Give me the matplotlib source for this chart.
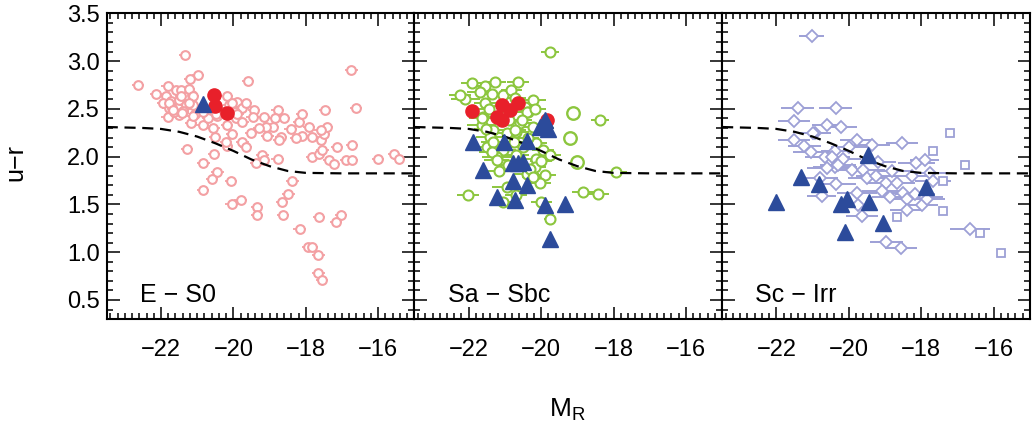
import matplotlib
matplotlib.use('Agg')
import matplotlib.pyplot as plt
from matplotlib.ticker import MultipleLocator

plt.rcParams['font.family'] = ['Liberation Sans', 'DejaVu Sans']
plt.rcParams['mathtext.fontset'] = 'custom'
plt.rcParams['mathtext.rm'] = 'Liberation Sans'

# ---- dashed dividing curve (same in every panel) ----
curve_M = [-23.5, -22.5, -22.0, -21.5, -21.0, -20.5, -20.0, -19.5, -19.0, -18.5, -18.0, -17.0, -15.0]
curve_ur = [2.31, 2.30, 2.29, 2.26, 2.21, 2.14, 2.06, 1.97, 1.90, 1.85, 1.83, 1.825, 1.825]

# ---- E - S0 ----
es0_M = [-21.33, -22.63, -20.98, -21.20, -19.60, -16.74, -21.82, -22.14, -21.86, -21.59,
         -21.45, -21.30, -21.73, -21.50, -21.79, -21.70, -21.31, -21.15, -21.12, -21.82,
         -21.50, -21.18, -20.85, -20.44, -20.17, -20.12, -19.89, -20.03, -19.75, -19.43,
         -19.94, -20.17, -19.75, -19.47, -20.03, -19.52, -19.15, -18.92, -19.10, -18.78,
         -18.85, -18.60, -19.06, -18.69, -18.42, -18.10, -17.91, -17.82, -17.59, -17.50,
         -17.41, -17.47, -16.62, -18.19, -18.10, -18.28, -17.59, -19.75, -19.66, -18.74,
         -17.13, -16.72, -21.29, -20.50, -20.17, -20.53, -19.20, -18.78, -19.15, -17.82,
         -17.63, -17.36, -17.22, -16.88, -16.72, -16.00, -15.57, -15.43, -19.38, -20.83,
         -20.44, -20.60, -20.07, -20.84, -18.37, -18.48, -19.80, -20.05, -18.66, -19.34,
         -19.34, -18.63, -17.63, -17.02, -17.16, -18.17, -17.93, -17.82, -17.65, -17.65,
         -17.56, -21.65, -21.40, -21.95, -21.05, -20.70, -20.55, -19.30, -20.30, -19.95,
         -17.54, -21.45, -21.22, -21.13, -21.77, -21.22, -21.68, -21.41, -21.13, -20.85,
         -19.66, -19.89, -20.49, -20.20]
es0_ur = [3.06, 2.75, 2.85, 2.81, 2.79, 2.91, 2.74, 2.66, 2.63, 2.70,
          2.70, 2.63, 2.58, 2.59, 2.51, 2.51, 2.54, 2.64, 2.54, 2.41,
          2.44, 2.35, 2.33, 2.43, 2.63, 2.54, 2.57, 2.56, 2.51, 2.49,
          2.40, 2.33, 2.36, 2.42, 2.24, 2.25, 2.42, 2.31, 2.31, 2.49,
          2.40, 2.40, 2.22, 2.21, 2.29, 2.22, 2.31, 2.21, 2.17, 2.24,
          2.31, 2.49, 2.51, 2.36, 2.45, 2.20, 2.28, 2.15, 2.10, 2.17,
          2.10, 2.12, 2.08, 2.21, 2.11, 2.03, 2.02, 1.98, 1.96, 2.00,
          2.03, 1.96, 1.92, 1.96, 1.96, 1.98, 2.03, 1.98, 1.93, 1.93,
          1.84, 1.77, 1.74, 1.65, 1.74, 1.61, 1.55, 1.50, 1.53, 1.47,
          1.39, 1.39, 1.37, 1.39, 1.32, 1.24, 1.05, 1.05, 0.97, 0.78,
          0.71, 2.47, 2.48, 2.56, 2.45, 2.40, 2.30, 2.30, 2.47, 2.47,
          2.07, 2.63, 2.71, 2.63, 2.56, 2.56, 2.49, 2.46, 2.43, 2.47,
          2.56, 2.45, 2.45, 2.15]
es0_red_M = [-20.53, -20.50, -20.19]
es0_red_ur = [2.645, 2.53, 2.46]
es0_tri_M = [-20.83]
es0_tri_ur = [2.556]

# ---- Sa - Sbc ----
sab_M = [-19.76, -21.92, -21.55, -20.63, -21.69, -21.37, -21.05, -20.82, -20.22, -22.10,
         -21.55, -20.45, -20.36, -21.60, -21.64, -20.59, -20.22, -21.32, -20.68, -21.41,
         -20.13, -21.50, -21.05, -19.94, -21.23, -20.68, -20.13, -19.76, -20.91, -20.17,
         -20.40, -19.90, -17.92, -20.03, -20.95, -22.01, -21.05, -19.99, -18.84, -18.43,
         -19.76, -18.38, -21.00, -20.90, -21.20, -21.45, -20.75, -20.50, -21.15, -20.70,
         -21.35, -20.95, -20.35, -19.95, -21.27, -22.24, -20.72, -20.40, -20.17, -21.64,
         -20.54, -21.51, -20.72, -21.32, -21.37, -21.23, -20.31, -20.22, -20.00]
sab_ur = [3.10, 2.77, 2.74, 2.78, 2.68, 2.66, 2.64, 2.70, 2.59, 2.60,
          2.56, 2.52, 2.47, 2.42, 2.33, 2.35, 2.31, 2.28, 2.26, 2.21,
          2.14, 2.10, 2.07, 2.07, 2.00, 2.02, 1.98, 2.02, 1.91, 1.89,
          1.82, 1.81, 1.84, 1.72, 1.68, 1.60, 1.53, 1.53, 1.63, 1.61,
          1.35, 2.38, 2.45, 2.38, 2.50, 2.50, 2.15, 2.10, 1.85, 1.60,
          2.05, 2.25, 2.20, 2.30, 2.78, 2.64, 2.61, 2.47, 2.50, 2.40,
          2.38, 2.29, 2.28, 2.15, 2.05, 1.96, 1.875, 1.79, 1.95]
sab_err = [0.25, 0.30, 0.30, 0.30, 0.35, 0.30, 0.30, 0.30, 0.35, 0.40,
           0.30, 0.30, 0.30, 0.35, 0.40, 0.30, 0.30, 0.35, 0.35, 0.40,
           0.30, 0.40, 0.35, 0.30, 0.40, 0.35, 0.35, 0.30, 0.35, 0.30,
           0.35, 0.30, 0.30, 0.30, 0.40, 0.30, 0.30, 0.30, 0.30, 0.30,
           0.15, 0.25, 0.30, 0.30, 0.30, 0.35, 0.35, 0.35, 0.35, 0.30,
           0.35, 0.35, 0.30, 0.30, 0.30, 0.30, 0.30, 0.30, 0.30, 0.35,
           0.30, 0.35, 0.30, 0.35, 0.35, 0.35, 0.30, 0.30, 0.30]
sab_big_M = [-19.12, -19.21, -19.02]
sab_big_ur = [2.46, 2.19, 1.94]
sab_red_M = [-21.92, -21.09, -20.63, -20.86, -21.23, -21.09, -19.85]
sab_red_ur = [2.48, 2.54, 2.56, 2.49, 2.41, 2.38, 2.38]
sab_tri_M = [-21.88, -21.03, -20.40, -19.90, -20.04, -19.80, -21.60, -20.77, -20.50, -20.64,
             -20.77, -20.40, -21.23, -20.73, -19.90, -19.35, -19.76]
sab_tri_ur = [2.15, 2.15, 2.16, 2.38, 2.31, 2.29, 1.86, 1.93, 1.94, 1.93,
              1.75, 1.70, 1.58, 1.55, 1.49, 1.50, 1.14]

# ---- Sc - Irr ----
sci_M = [-21.03, -21.41, -20.36, -21.51, -20.61, -20.22, -20.93, -21.51, -21.23, -19.78,
         -18.53, -20.38, -20.66, -20.15, -20.47, -19.19, -18.13, -17.90, -20.38, -20.29,
         -19.92, -19.60, -17.76, -20.61, -20.34, -19.51, -18.96, -18.68, -17.67, -20.75,
         -19.78, -19.09, -18.50, -18.18, -18.86, -18.40, -17.90, -19.74, -19.64, -18.40,
         -17.99, -17.85, -18.96, -18.56, -16.66, -20.98, -21.05, -20.00, -19.35, -20.80,
         -19.25, -18.80, -18.25]
sci_ur = [3.26, 2.51, 2.51, 2.37, 2.33, 2.31, 2.25, 2.17, 2.11, 2.17,
          2.14, 2.06, 2.00, 1.98, 2.00, 1.94, 1.93, 1.96, 1.89, 1.91,
          1.86, 1.86, 1.83, 1.88, 1.71, 1.78, 1.72, 1.72, 1.74, 1.59,
          1.62, 1.64, 1.62, 1.61, 1.58, 1.56, 1.58, 1.49, 1.38, 1.44,
          1.49, 1.56, 1.11, 1.04, 1.24, 2.25, 2.05, 2.10, 2.12, 1.78,
          1.80, 1.85, 1.80]
sci_err = [0.35, 0.45, 0.45, 0.45, 0.40, 0.45, 0.45, 0.45, 0.45, 0.45,
           0.45, 0.40, 0.55, 0.50, 0.50, 0.50, 0.50, 0.40, 0.60, 0.50,
           0.50, 0.60, 0.50, 0.55, 0.55, 0.50, 0.50, 0.50, 0.50, 0.40,
           0.55, 0.55, 0.55, 0.55, 0.50, 0.50, 0.50, 0.45, 0.45, 0.45,
           0.45, 0.50, 0.45, 0.45, 0.55, 0.40, 0.50, 0.50, 0.50, 0.50,
           0.55, 0.50, 0.50]
sci_sq_M = [-17.21, -17.67, -16.78, -17.40, -17.40, -18.68, -16.38, -15.80]
sci_sq_ur = [2.25, 2.06, 1.91, 1.74, 1.43, 1.37, 1.20, 0.99]
sci_tri_M = [-22.01, -21.32, -20.82, -20.06, -20.22, -19.45, -19.48, -17.88, -19.05, -20.11]
sci_tri_ur = [1.53, 1.79, 1.71, 1.56, 1.50, 1.53, 2.02, 1.68, 1.31, 1.21]

PINK = '#f3a0a3'
GREEN = '#8cc63e'
LAV = '#9da0d6'
RED = '#e8202a'
BLUE = '#2c4b9b'

fig = plt.figure(figsize=(10.33, 4.30), dpi=100)
axes = fig.subplots(1, 3, sharey=True)
fig.subplots_adjust(left=0.1033, right=0.9969, bottom=0.258, top=0.969, wspace=0)

# E - S0
ax = axes[0]
ax.errorbar(es0_M, es0_ur, xerr=0.17, fmt='o', ms=6.3, mfc='white', mec=PINK, mew=1.5,
            ecolor=PINK, elinewidth=1.3, capsize=0, zorder=2)
ax.plot(es0_red_M, es0_red_ur, 'o', ms=9.5, color=RED, zorder=4)
ax.plot(es0_tri_M, es0_tri_ur, '^', ms=11, color=BLUE, zorder=5)

# Sa - Sbc
ax = axes[1]
ax.errorbar(sab_M, sab_ur, xerr=sab_err, fmt='o', ms=7.2, mfc='white', mec=GREEN, mew=1.5,
            ecolor=GREEN, elinewidth=1.4, capsize=0, zorder=2)
ax.plot(sab_big_M, sab_big_ur, 'o', ms=9, mfc='white', mec=GREEN, mew=1.7, zorder=2)
ax.plot(sab_red_M, sab_red_ur, 'o', ms=9.5, color=RED, zorder=4)
ax.plot(sab_tri_M, sab_tri_ur, '^', ms=11, color=BLUE, zorder=5)

# Sc - Irr
ax = axes[2]
ax.errorbar(sci_M, sci_ur, xerr=sci_err, fmt='D', ms=6.3, mfc='white', mec=LAV, mew=1.3,
            ecolor=LAV, elinewidth=1.4, capsize=0, zorder=2)
ax.plot(sci_sq_M, sci_sq_ur, 's', ms=6, mfc='white', mec=LAV, mew=1.3, zorder=2)
ax.plot(sci_tri_M, sci_tri_ur, '^', ms=11, color=BLUE, zorder=5)

labels = ['E − S0', 'Sa − Sbc', 'Sc − Irr']
for ax, lab in zip(axes, labels):
    ax.plot(curve_M, curve_ur, color='black', lw=1.6, ls=(0, (5, 3)), zorder=3)
    ax.text(0.108, 0.056, lab, transform=ax.transAxes, fontsize=18, va='baseline')
    ax.set_xlim(-23.5, -15.0)
    ax.set_ylim(0.3, 3.5)
    ax.xaxis.set_major_locator(MultipleLocator(2))
    ax.xaxis.set_minor_locator(MultipleLocator(0.2))
    ax.yaxis.set_major_locator(MultipleLocator(0.5))
    ax.yaxis.set_minor_locator(MultipleLocator(0.1))
    ax.tick_params(which='both', direction='in', top=True, right=True, width=1.1)
    ax.tick_params(which='major', length=9)
    ax.tick_params(which='minor', length=4.5)
    ax.tick_params(axis='x', labelsize=17, pad=14)
    ax.tick_params(axis='y', labelsize=17, pad=5)
    for sp in ax.spines.values():
        sp.set_linewidth(1.5)

axes[0].yaxis.set_major_formatter(plt.FormatStrFormatter('%.1f'))

fig.text(0.0152, 0.623, 'u−r', rotation=90, ha='center', va='center', fontsize=18)
fig.text(0.549, 0.047, r'$\mathregular{M_R}$', ha='center', va='center', fontsize=19)

fig.savefig('out.png', dpi=100)
